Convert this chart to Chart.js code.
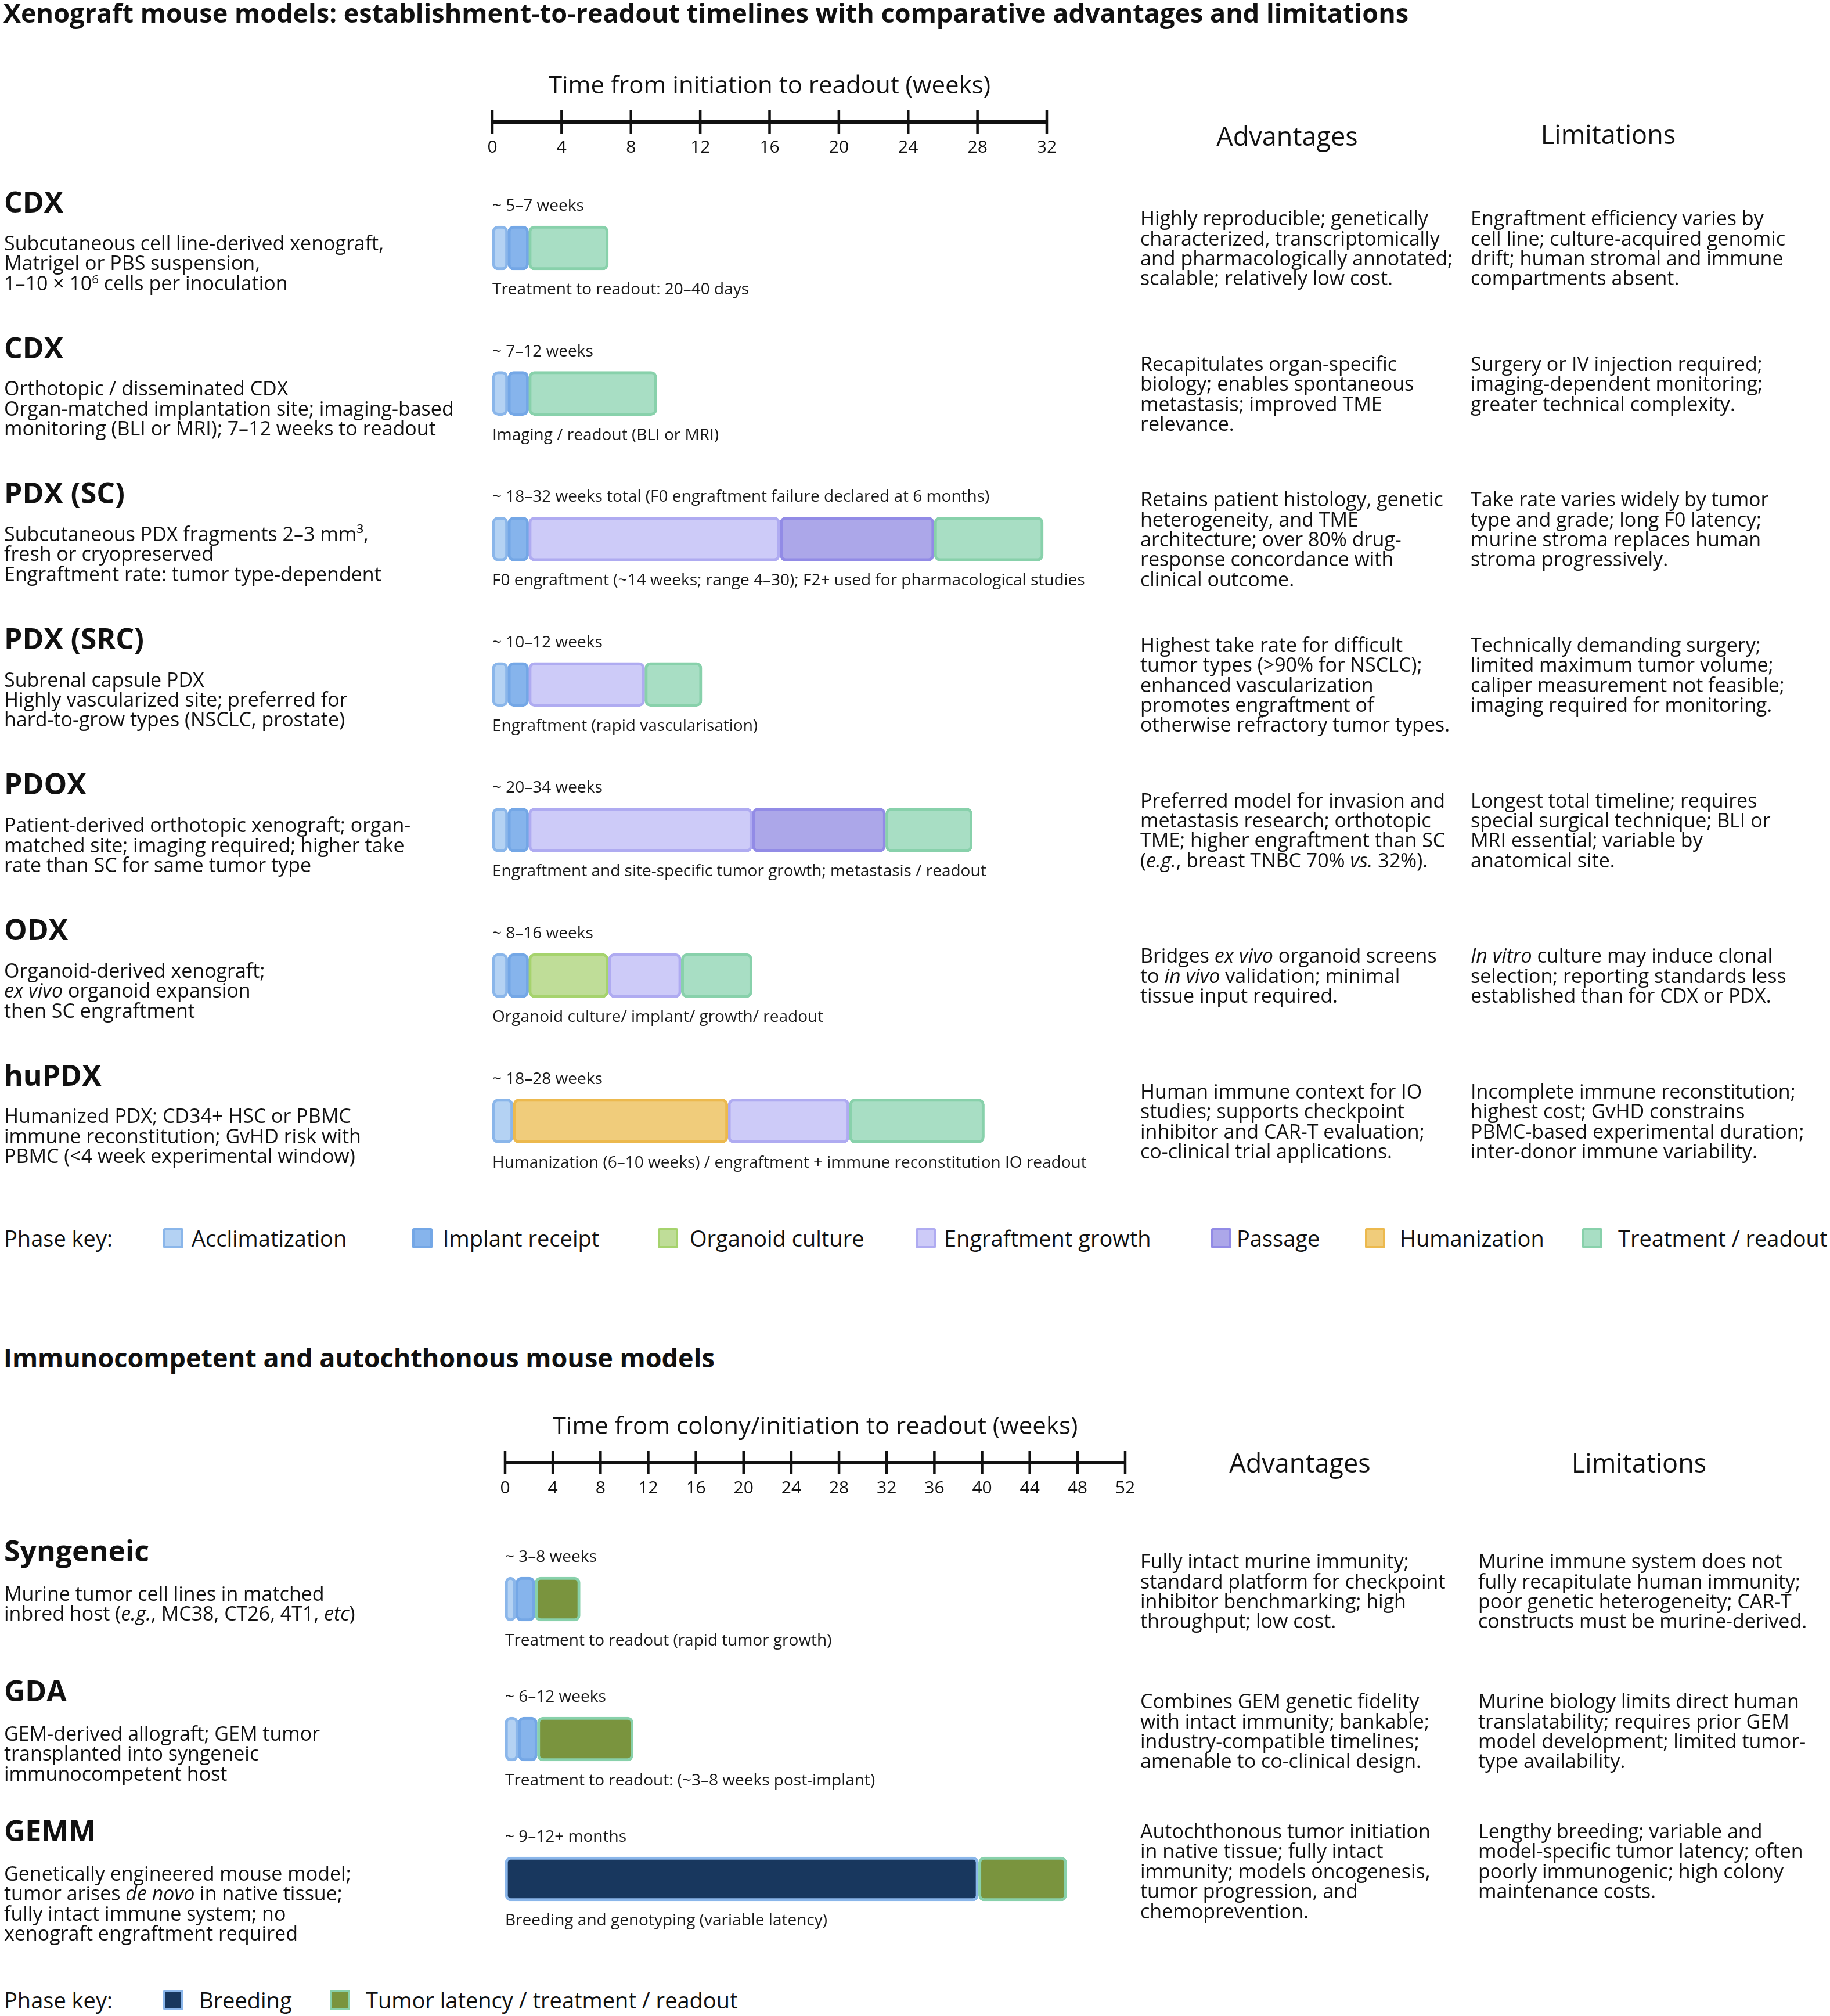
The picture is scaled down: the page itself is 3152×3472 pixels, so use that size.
<!DOCTYPE html>
<html>
<head>
<meta charset="utf-8">
<script src="https://cdn.jsdelivr.net/npm/chart.js@4.4.1/dist/chart.umd.min.js"></script>
<style>
  body { margin: 0; background: #fff; }
  #page { position: relative; width: 3152px; height: 3472px; font-family: 'Open Sans', sans-serif; color: #111; overflow: hidden; }
  canvas { position: absolute; left: 0; }
  .t { position: absolute; white-space: nowrap; }
  .title { font-weight: 700; font-size: 45px; line-height: 50px; }
  .name { font-weight: 700; font-size: 50px; line-height: 60px; }
  .desc, .col { font-size: 34px; line-height: 34.4px; }
  .head { font-size: 45px; line-height: 56px; transform: translate(-50%, -50%); }
  .key { font-size: 38px; line-height: 44px; }
  .sw { position: absolute; width: 35px; height: 35px; box-sizing: border-box; border: 4px solid; border-radius: 3px; }
  sup { font-size: 60%; line-height: 0; vertical-align: 0.6em; }
</style>
</head>
<body>
<div id="page">
  <canvas id="xenoChart" width="3152" height="2080" style="top:0px"></canvas>
  <canvas id="immunoChart" width="3152" height="1000" style="top:2380px"></canvas>
</div>
<script>
// ---- xenograft panel data ----
const xenoModels = ['CDX', 'CDX', 'PDX (SC)', 'PDX (SRC)', 'PDOX', 'ODX', 'huPDX'];
const xenoTicks = [0, 4, 8, 12, 16, 20, 24, 28, 32];
const xenoAcclimatization = [[0, 0.9], [0, 0.9], [0, 0.9], [0, 0.9], [0, 0.9], [0, 0.9], [0, 1.2]];
const xenoImplant = [[0.9, 2.1], [0.9, 2.1], [0.9, 2.1], [0.9, 2.1], [0.9, 2.1], [0.9, 2.1], null];
const xenoOrganoid = [null, null, null, null, null, [2.1, 6.7], null];
const xenoEngraftment = [null, null, [2.1, 16.6], [2.1, 8.8], [2.1, 15.0], [6.7, 10.9], [13.6, 20.6]];
const xenoPassage = [null, null, [16.6, 25.5], null, [15.0, 22.7], null, null];
const xenoHumanization = [null, null, null, null, null, null, [1.2, 13.6]];
const xenoTreatment = [[2.1, 6.7], [2.1, 9.5], [25.5, 31.8], [8.8, 12.1], [22.7, 27.7], [10.9, 15.0], [20.6, 28.4]];

const xenoDurations = [
  '~ 5–7 weeks', '~ 7–12 weeks',
  '~ 18–32 weeks total (F0 engraftment failure declared at 6 months)',
  '~ 10–12 weeks', '~ 20–34 weeks', '~ 8–16 weeks', '~ 18–28 weeks'
];
const xenoNotes = [
  'Treatment to readout: 20–40 days',
  'Imaging / readout (BLI or MRI)',
  'F0 engraftment (~14 weeks; range 4–30); F2+ used for pharmacological studies',
  'Engraftment (rapid vascularisation)',
  'Engraftment and site-specific tumor growth; metastasis / readout',
  'Organoid culture/ implant/ growth/ readout',
  'Humanization (6–10 weeks) / engraftment + immune reconstitution IO readout'
];
const xenoDescriptions = [
  'Subcutaneous cell line-derived xenograft,<br>Matrigel or PBS suspension,<br>1–10 × 10<sup>6</sup> cells per inoculation',
  'Orthotopic / disseminated CDX<br>Organ-matched implantation site; imaging-based<br>monitoring (BLI or MRI); 7–12 weeks to readout',
  'Subcutaneous PDX fragments 2–3 mm³,<br>fresh or cryopreserved<br>Engraftment rate: tumor type-dependent',
  'Subrenal capsule PDX<br>Highly vascularized site; preferred for<br>hard-to-grow types (NSCLC, prostate)',
  'Patient-derived orthotopic xenograft; organ-<br>matched site; imaging required; higher take<br>rate than SC for same tumor type',
  'Organoid-derived xenograft;<br><i>ex vivo</i> organoid expansion<br>then SC engraftment',
  'Humanized PDX; CD34+ HSC or PBMC<br>immune reconstitution; GvHD risk with<br>PBMC (&lt;4 week experimental window)'
];
const xenoAdvantages = [
  'Highly reproducible; genetically<br>characterized, transcriptomically<br>and pharmacologically annotated;<br>scalable; relatively low cost.',
  'Recapitulates organ-specific<br>biology; enables spontaneous<br>metastasis; improved TME<br>relevance.',
  'Retains patient histology, genetic<br>heterogeneity, and TME<br>architecture; over 80% drug-<br>response concordance with<br>clinical outcome.',
  'Highest take rate for difficult<br>tumor types (&gt;90% for NSCLC);<br>enhanced vascularization<br>promotes engraftment of<br>otherwise refractory tumor types.',
  'Preferred model for invasion and<br>metastasis research; orthotopic<br>TME; higher engraftment than SC<br>(<i>e.g.</i>, breast TNBC 70% <i>vs.</i> 32%).',
  'Bridges <i>ex vivo</i> organoid screens<br>to <i>in vivo</i> validation; minimal<br>tissue input required.',
  'Human immune context for IO<br>studies; supports checkpoint<br>inhibitor and CAR-T evaluation;<br>co-clinical trial applications.'
];
const xenoLimitations = [
  'Engraftment efficiency varies by<br>cell line; culture-acquired genomic<br>drift; human stromal and immune<br>compartments absent.',
  'Surgery or IV injection required;<br>imaging-dependent monitoring;<br>greater technical complexity.',
  'Take rate varies widely by tumor<br>type and grade; long F0 latency;<br>murine stroma replaces human<br>stroma progressively.',
  'Technically demanding surgery;<br>limited maximum tumor volume;<br>caliper measurement not feasible;<br>imaging required for monitoring.',
  'Longest total timeline; requires<br>special surgical technique; BLI or<br>MRI essential; variable by<br>anatomical site.',
  '<i>In vitro</i> culture may induce clonal<br>selection; reporting standards less<br>established than for CDX or PDX.',
  'Incomplete immune reconstitution;<br>highest cost; GvHD constrains<br>PBMC-based experimental duration;<br>inter-donor immune variability.'
];

// ---- immunocompetent panel data ----
const immunoModels = ['Syngeneic', 'GDA', 'GEMM'];
const immunoTicks = [0, 4, 8, 12, 16, 20, 24, 28, 32, 36, 40, 44, 48, 52];
const immunoAcclimatization = [[0, 0.9], [0, 1.1], null];
const immunoImplant = [[0.9, 2.5], [1.1, 2.7], null];
const immunoBreeding = [null, null, [0, 39.7]];
const immunoTumor = [[2.5, 6.3], [2.7, 10.75], [39.7, 47.1]];

const immunoDurations = ['~ 3–8 weeks', '~ 6–12 weeks', '~ 9–12+ months'];
const immunoNotes = [
  'Treatment to readout (rapid tumor growth)',
  'Treatment to readout: (~3–8 weeks post-implant)',
  'Breeding and genotyping (variable latency)'
];
const immunoDescriptions = [
  'Murine tumor cell lines in matched<br>inbred host (<i>e.g.</i>, MC38, CT26, 4T1, <i>etc</i>)',
  'GEM-derived allograft; GEM tumor<br>transplanted into syngeneic<br>immunocompetent host',
  'Genetically engineered mouse model;<br>tumor arises <i>de novo</i> in native tissue;<br>fully intact immune system; no<br>xenograft engraftment required'
];
const immunoAdvantages = [
  'Fully intact murine immunity;<br>standard platform for checkpoint<br>inhibitor benchmarking; high<br>throughput; low cost.',
  'Combines GEM genetic fidelity<br>with intact immunity; bankable;<br>industry-compatible timelines;<br>amenable to co-clinical design.',
  'Autochthonous tumor initiation<br>in native tissue; fully intact<br>immunity; models oncogenesis,<br>tumor progression, and<br>chemoprevention.'
];
const immunoLimitations = [
  'Murine immune system does not<br>fully recapitulate human immunity;<br>poor genetic heterogeneity; CAR-T<br>constructs must be murine-derived.',
  'Murine biology limits direct human<br>translatability; requires prior GEM<br>model development; limited tumor-<br>type availability.',
  'Lengthy breeding; variable and<br>model-specific tumor latency; often<br>poorly immunogenic; high colony<br>maintenance costs.'
];

const xenoKey = ['Acclimatization', 'Implant receipt', 'Organoid culture', 'Engraftment growth', 'Passage', 'Humanization', 'Treatment / readout'];
const immunoKey = ['Breeding', 'Tumor latency / treatment / readout'];

// ---- styles ----
const phaseColors = {
  acclimatization: { fill: '#b4d2f3', line: '#8ab6ea' },
  implant:         { fill: '#86b4ec', line: '#74a7e6' },
  organoid:        { fill: '#bfdd98', line: '#a6d36d' },
  engraftment:     { fill: '#cdcbf8', line: '#afabf1' },
  passage:         { fill: '#aca7e9', line: '#928be6' },
  humanization:    { fill: '#f0cc7b', line: '#ecb94e' },
  treatment:       { fill: '#a8dec4', line: '#88d1ab' },
  breeding:        { fill: '#18375e', line: '#8ab6ea' },
  tumor:           { fill: '#7a943e', line: '#88d1ab' }
};
const FONT = '"Open Sans", sans-serif';
const page = document.getElementById('page');

const timelineAxis = {
  id: 'timelineAxis',
  afterDraw(chart, args, opts) {
    const { ctx } = chart;
    const x = chart.scales.x;
    const y = chart.scales.y;
    const ay = opts.axisY;
    const x0 = x.getPixelForValue(opts.ticks[0]);
    const x1 = x.getPixelForValue(opts.ticks[opts.ticks.length - 1]);
    ctx.save();
    ctx.strokeStyle = '#111';
    ctx.lineWidth = 6;
    ctx.beginPath();
    ctx.moveTo(x0, ay);
    ctx.lineTo(x1, ay);
    ctx.stroke();
    ctx.lineWidth = 4.5;
    ctx.fillStyle = '#111';
    ctx.textAlign = 'center';
    ctx.textBaseline = 'middle';
    ctx.font = '30px ' + FONT;
    opts.ticks.forEach(t => {
      const px = x.getPixelForValue(t);
      ctx.beginPath();
      ctx.moveTo(px, ay - 20);
      ctx.lineTo(px, ay + 20);
      ctx.stroke();
      ctx.fillText(String(t), px, ay + 44);
    });
    ctx.font = '42px ' + FONT;
    ctx.fillText(opts.title, (x0 + x1) / 2, ay - 61);

    // duration above each bar, note below it
    ctx.textAlign = 'left';
    ctx.font = '28px ' + FONT;
    ctx.fillStyle = '#1a1a1a';
    chart.data.labels.forEach((lab, i) => {
      const c = y.getPixelForValue(i);
      ctx.fillText(opts.above[i], x0, c - 72);
      ctx.fillText(opts.below[i], x0, c + 72);
    });
    ctx.restore();
  }
};

function makeTimeline(id, labels, phases, ticks, padding, axisY, title, above, below) {
  return new Chart(document.getElementById(id), {
    type: 'bar',
    data: {
      labels: labels,
      datasets: phases.map((p, i) => ({
        label: p.name,
        data: p.data,
        backgroundColor: phaseColors[p.key].fill,
        borderColor: phaseColors[p.key].line,
        borderWidth: 5,
        borderRadius: 10,
        borderSkipped: false,
        barThickness: 76,
        grouped: false,
        clip: false,
        order: phases.length - i
      }))
    },
    options: {
      indexAxis: 'y',
      responsive: false,
      animation: false,
      devicePixelRatio: 1,
      layout: { padding: padding },
      scales: {
        x: { type: 'linear', min: ticks[0], max: ticks[ticks.length - 1], display: false },
        y: { type: 'category', offset: true, display: false }
      },
      plugins: {
        legend: { display: false },
        tooltip: { enabled: false },
        timelineAxis: { ticks: ticks, axisY: axisY, title: title, above: above, below: below }
      }
    },
    plugins: [timelineAxis]
  });
}

function addText(cls, html, left, top, extra) {
  const d = document.createElement('div');
  d.className = 't ' + cls;
  d.innerHTML = html;
  d.style.left = left + 'px';
  d.style.top = top + 'px';
  if (extra) Object.assign(d.style, extra);
  page.appendChild(d);
  return d;
}

function placeRows(chart, canvasTop, names, descs, advs, lims, o) {
  const LH = 34.4;
  names.forEach((n, i) => {
    const c = canvasTop + chart.scales.y.getPixelForValue(i);
    addText('name', n, 7, c + o.nameOff - 30);
    addText('desc', descs[i], 7, c + o.descOff - LH / 2);
    const lines = advs[i].split('<br>').length;
    const top = c + o.colOff - lines * LH / 2;
    addText('col', advs[i], o.advX, top);
    addText('col', lims[i], o.limX, top);
  });
}

function addKey(labels, phaseKeys, swatchX, textX, cy) {
  addText('key', 'Phase key:', 7, cy - 22);
  labels.forEach((lab, i) => {
    const c = phaseColors[phaseKeys[i]];
    const s = document.createElement('div');
    s.className = 'sw';
    s.style.left = swatchX[i] + 'px';
    s.style.top = (cy - 17) + 'px';
    s.style.background = c.fill;
    s.style.borderColor = c.line;
    page.appendChild(s);
    addText('key', lab, textX[i], cy - 22);
  });
}

// ---- build page ----
addText('title', 'Xenograft mouse models: establishment-to-readout timelines with comparative advantages and limitations', 6, -3);

const xenoChart = makeTimeline('xenoChart', xenoModels, [
  { key: 'acclimatization', name: 'Acclimatization', data: xenoAcclimatization },
  { key: 'implant', name: 'Implant receipt', data: xenoImplant },
  { key: 'organoid', name: 'Organoid culture', data: xenoOrganoid },
  { key: 'engraftment', name: 'Engraftment growth', data: xenoEngraftment },
  { key: 'passage', name: 'Passage', data: xenoPassage },
  { key: 'humanization', name: 'Humanization', data: xenoHumanization },
  { key: 'treatment', name: 'Treatment / readout', data: xenoTreatment }
], xenoTicks, { left: 848, right: 1349, top: 301.7, bottom: 24 }, 210,
  'Time from initiation to readout (weeks)', xenoDurations, xenoNotes);

addText('head', 'Advantages', 2217, 234);
addText('head', 'Limitations', 2770, 231);
placeRows(xenoChart, 0, xenoModels, xenoDescriptions, xenoAdvantages, xenoLimitations,
  { nameOff: -80, descOff: -9, colOff: 0, advX: 1964, limX: 2533 });
addKey(xenoKey,
  ['acclimatization', 'implant', 'organoid', 'engraftment', 'passage', 'humanization', 'treatment'],
  [281, 710, 1133, 1577, 2086, 2351, 2725],
  [330, 763, 1188, 1626, 2130, 2411, 2787], 2132);

addText('title', 'Immunocompetent and autochthonous mouse models', 6, 2313);

const immunoChart = makeTimeline('immunoChart', immunoModels, [
  { key: 'acclimatization', name: 'Acclimatization', data: immunoAcclimatization },
  { key: 'implant', name: 'Implant receipt', data: immunoImplant },
  { key: 'breeding', name: 'Breeding', data: immunoBreeding },
  { key: 'tumor', name: 'Tumor latency / treatment / readout', data: immunoTumor }
], immunoTicks, { left: 870, right: 1214, top: 253.5, bottom: 23.5 }, 139,
  'Time from colony/initiation to readout (weeks)', immunoDurations, immunoNotes);

addText('head', 'Advantages', 2239, 2519);
addText('head', 'Limitations', 2823, 2519);
placeRows(immunoChart, 2380, immunoModels, immunoDescriptions, immunoAdvantages, immunoLimitations,
  { nameOff: -84, descOff: -10, colOff: -14, advX: 1964, limX: 2546 });
addKey(immunoKey, ['breeding', 'tumor'], [281, 568], [343, 630], 3444);
</script>
</body>
</html>
